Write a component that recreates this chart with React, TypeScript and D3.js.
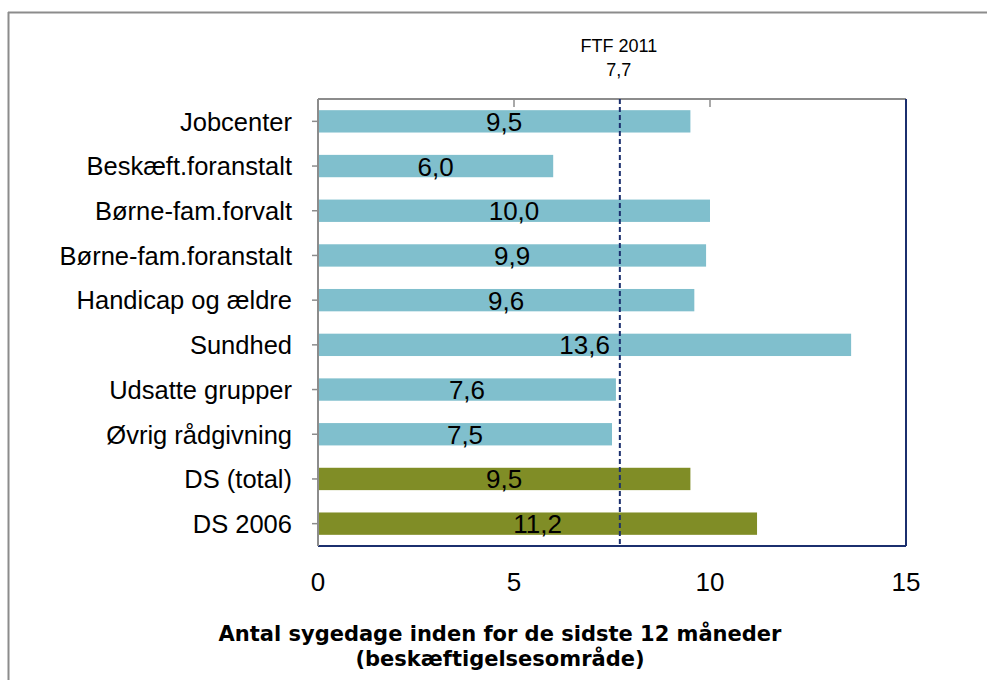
import React from "react";
import * as d3 from "d3";

const categories = [
  "Jobcenter",
  "Beskæft.foranstalt",
  "Børne-fam.forvalt",
  "Børne-fam.foranstalt",
  "Handicap og ældre",
  "Sundhed",
  "Udsatte grupper",
  "Øvrig rådgivning",
  "DS (total)",
  "DS 2006",
];
const values = [9.5, 6.0, 10.0, 9.9, 9.6, 13.6, 7.6, 7.5, 9.5, 11.2];
const groups = ["area", "area", "area", "area", "area", "area", "area", "area", "total", "total"];
const xTicks = [0, 5, 10, 15];
const refValue = 7.7;
const refLabel = ["FTF 2011", "7,7"];
const axisTitle = ["Antal sygedage inden for de sidste 12 måneder", "(beskæftigelsesområde)"];

const W = 987;
const H = 680;
const plot = { left: 318, right: 906, top: 99, bottom: 546 };
const colors: Record<string, string> = { area: "#80BFCD", total: "#808D26" };
const navy = "#1B2F6E";
const gray = "#8C8C8C";
const font = "'Liberation Sans', Arial, sans-serif";
const titleFont = "'DejaVu Sans', Verdana, sans-serif";

const fmt = (v: number) => v.toFixed(1).replace(".", ",");

export default function App() {
  const x = d3.scaleLinear().domain([0, 15]).range([plot.left, plot.right]);
  const y = d3
    .scaleBand<string>()
    .domain(categories)
    .range([plot.top, plot.bottom])
    .paddingInner(0.5)
    .paddingOuter(0.25);
  const bw = y.bandwidth();
  const centers = categories.map((c) => (y(c) as number) + bw / 2);
  const rx = x(refValue);

  return (
    <svg
      width={W}
      height={H}
      style={{ position: "absolute", left: 0, top: 0, background: "#fff" }}
      fontFamily={font}
    >
      <rect x={0} y={0} width={W} height={H} fill="#fff" />
      {/* outer chart border */}
      <line x1={8} y1={12.5} x2={W} y2={12.5} stroke={gray} strokeWidth={2} />
      <line x1={8.5} y1={12} x2={8.5} y2={H} stroke={gray} strokeWidth={2} />

      {/* bars */}
      {categories.map((c, i) => (
        <rect
          key={c}
          x={x(0) + 1}
          y={y(c)}
          width={x(values[i]) - x(0) - 1}
          height={bw}
          fill={colors[groups[i]]}
        />
      ))}

      {/* plot frame */}
      <line x1={plot.left} y1={plot.top} x2={plot.right} y2={plot.top} stroke={gray} strokeWidth={2} />
      <line x1={plot.right} y1={plot.top} x2={plot.right} y2={plot.bottom} stroke={navy} strokeWidth={2} />
      <line x1={plot.left} y1={plot.bottom} x2={plot.right} y2={plot.bottom} stroke={navy} strokeWidth={2} />
      <line x1={plot.left} y1={plot.top} x2={plot.left} y2={plot.bottom} stroke={gray} strokeWidth={2} />

      {/* top ticks */}
      {xTicks.slice(1, -1).map((t) => (
        <line key={t} x1={x(t)} x2={x(t)} y1={plot.top} y2={plot.top + 8} stroke={gray} strokeWidth={1.5} />
      ))}
      {/* left ticks */}
      {centers.map((cy, i) => (
        <line key={i} x1={plot.left - 6} x2={plot.left} y1={cy} y2={cy} stroke={gray} strokeWidth={1.5} />
      ))}

      {/* reference line */}
      <line
        x1={rx}
        x2={rx}
        y1={plot.top}
        y2={plot.bottom}
        stroke={navy}
        strokeWidth={2}
        strokeDasharray="5 3"
      />
      <text x={rx - 1} y={52} textAnchor="middle" fontSize={18} fill="#000">
        {refLabel[0]}
      </text>
      <text x={rx - 1} y={75.5} textAnchor="middle" fontSize={18} fill="#000">
        {refLabel[1]}
      </text>

      {/* value labels */}
      {categories.map((c, i) => (
        <text
          key={c}
          x={(x(0) + x(values[i])) / 2}
          y={centers[i] + 9.5}
          textAnchor="middle"
          fontSize={26}
          fill="#000"
        >
          {fmt(values[i])}
        </text>
      ))}

      {/* category labels */}
      {categories.map((c, i) => (
        <text key={c} x={292} y={centers[i] + 9.3} textAnchor="end" fontSize={25.5} fill="#000">
          {c}
        </text>
      ))}

      {/* x tick labels */}
      {xTicks.map((t) => (
        <text key={t} x={x(t)} y={591} textAnchor="middle" fontSize={26} fill="#000">
          {t}
        </text>
      ))}

      {/* axis title */}
      <text x={500} y={641} textAnchor="middle" fontSize={21} fontWeight="bold" fontFamily={titleFont} fill="#000">
        {axisTitle[0]}
      </text>
      <text x={500} y={666} textAnchor="middle" fontSize={21} fontWeight="bold" fontFamily={titleFont} fill="#000">
        {axisTitle[1]}
      </text>
    </svg>
  );
}
